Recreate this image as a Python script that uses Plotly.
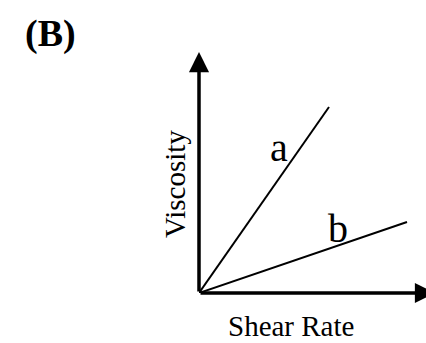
import plotly.graph_objects as go

# ---------------------------------------------------------------------------
# Data (arbitrary units, origin at 0,0)
# ---------------------------------------------------------------------------
shear_a = [0, 1.30]
visc_a = [0, 1.86]
shear_b = [0, 2.08]
visc_b = [0, 0.71]

# axis arrow tips; the x one sits past the window's right edge, as in the sketch
x_axis_end = 2.36
y_axis_end = 2.41

_FONT = "Liberation Serif, Times New Roman, serif"
# figure is a bit wider than the 426px window so the x arrow gets cut off
_L, _R, _T, _B = 199, 0, 50, 50
_W, _H = 440, 343
plot_w = _W - _L - _R
plot_h = _H - _T - _B

fig = go.Figure()
for xs, ys, name in [(shear_a, visc_a, "a"), (shear_b, visc_b, "b")]:
    fig.add_trace(go.Scatter(
        x=xs, y=ys, mode="lines", name=name,
        line=dict(color="black", width=2),
        cliponaxis=False, hoverinfo="skip",
    ))

for tip_x, tip_y in [(x_axis_end, 0), (0, y_axis_end)]:
    fig.add_annotation(
        x=tip_x, y=tip_y, ax=0, ay=0, xref="x", yref="y", axref="x", ayref="y",
        text="", showarrow=True, arrowhead=2, arrowsize=1.15, arrowwidth=3.5,
        arrowcolor="black", standoff=0,
    )

# curve labels
for txt, x, y in [("a", 0.795, 1.455), ("b", 1.385, 0.645)]:
    fig.add_annotation(
        x=x, y=y, xref="x", yref="y", text=txt, showarrow=False,
        font=dict(family=_FONT, size=40, color="black"),
    )

# axis titles + panel tag (paper coords, outside the plot area)
for txt, px, py, size, ang in [
    ("Viscosity", 175, 184, 29, -90),
    ("Shear Rate", 291, 326, 29, 0),
    ("<b>(B)</b>", 50, 33, 38, 0),
]:
    fig.add_annotation(
        x=(px - _L) / plot_w, y=(_H - _B - py) / plot_h,
        xref="paper", yref="paper", text=txt, showarrow=False,
        xanchor="center", yanchor="middle", textangle=ang,
        font=dict(family=_FONT, size=size, color="black"),
    )

fig.update_layout(
    width=_W, height=_H,
    margin=dict(l=_L, r=_R, t=_T, b=_B),
    paper_bgcolor="white", plot_bgcolor="white",
    showlegend=False,
    xaxis=dict(range=[0, plot_w / 100], visible=False, fixedrange=True),
    yaxis=dict(range=[0, plot_h / 100], visible=False, fixedrange=True),
)

fig.write_html(
    "out.html",
    config={"displayModeBar": False},
    post_script="document.body.style.margin='0';document.body.style.overflow='hidden';",
)
